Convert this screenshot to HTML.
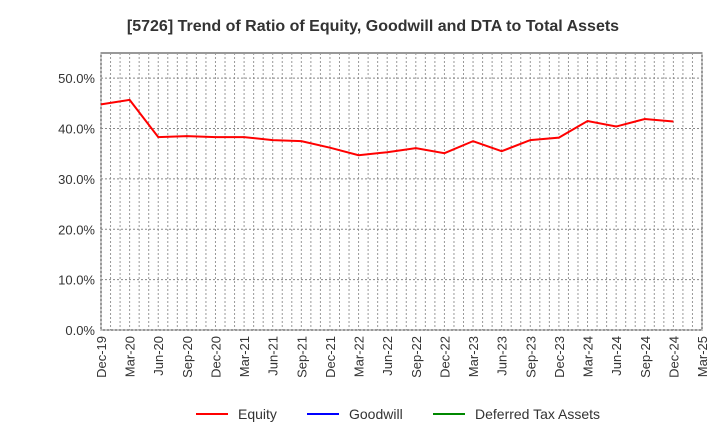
<!DOCTYPE html>
<html><head><meta charset="utf-8"><style>
body{margin:0;background:#fff;font-family:"Liberation Sans",sans-serif}
</style></head><body>
<svg id="c" width="720" height="440" xmlns="http://www.w3.org/2000/svg">
<text x="373" y="31" text-anchor="middle" font-size="16" font-weight="bold" fill="#333">[5726]  Trend of Ratio of Equity, Goodwill and DTA to Total Assets</text>
<g id="grid"></g><g id="axes"></g><g id="series"></g>
<g font-size="14" fill="#333">
<g><line x1="196" y1="414" x2="228" y2="414" stroke="#f00" stroke-width="2"/><text x="238" y="419">Equity</text></g>
<g><line x1="307" y1="414" x2="339" y2="414" stroke="#00f" stroke-width="2"/><text x="349" y="419">Goodwill</text></g>
<g><line x1="433" y1="414" x2="465" y2="414" stroke="#080" stroke-width="2"/><text x="475" y="419">Deferred Tax Assets</text></g>
</g>
</svg>
<script>
const categories=["Dec-19","Mar-20","Jun-20","Sep-20","Dec-20","Mar-21","Jun-21","Sep-21","Dec-21","Mar-22","Jun-22","Sep-22","Dec-22","Mar-23","Jun-23","Sep-23","Dec-23","Mar-24","Jun-24","Sep-24","Dec-24","Mar-25"];
const equity=[44.8,45.7,38.3,38.5,38.3,38.3,37.7,37.5,36.2,34.7,35.3,36.1,35.1,37.5,35.5,37.7,38.2,41.5,40.4,41.9,41.4];
const yTicks=[0,10,20,30,40,50];
const yTickLabels=["0.0%","10.0%","20.0%","30.0%","40.0%","50.0%"];
const NS="http://www.w3.org/2000/svg";
const L=101,R=702,T=53,B=330;
const x=i=>L+(R-L)*i/(categories.length-1);
const y=v=>B-(B-T)*v/55;
function mk(p,t,a){const e=document.createElementNS(NS,t);for(const k in a)e.setAttribute(k,a[k]);p.appendChild(e);return e;}
const grid=document.getElementById('grid'),axes=document.getElementById('axes'),ser=document.getElementById('series');
mk(grid,'rect',{x:L,y:T,width:R-L,height:B-T,fill:'none',stroke:'#333'});
for(let i=0;i<categories.length*3-2;i++){const xx=L+(R-L)*i/((categories.length-1)*3);
const g=mk(grid,'line',{x1:xx,x2:xx,y1:T,y2:B,stroke:'#999','stroke-dasharray':'2,2','stroke-width':1});

}
yTicks.forEach((v,i)=>{const g=mk(grid,'line',{x1:L,x2:R,y1:y(v),y2:y(v),stroke:'#888','stroke-dasharray':'2,2'});


const t=mk(axes,'text',{x:L-6,y:y(v)+5,'text-anchor':'end','font-size':13,fill:'#333'});t.textContent=yTickLabels[i];

});
categories.forEach((c,i)=>{const t=mk(axes,'text',{transform:`translate(${x(i)+5},${B+6}) rotate(-90)`,'text-anchor':'end','font-size':13,fill:'#333'});t.textContent=c;

});
const p=mk(ser,'polyline',{points:equity.map((v,i)=>x(i)+','+y(v)).join(' '),fill:'none',stroke:'#f00','stroke-width':2});


</script>
</body></html>
